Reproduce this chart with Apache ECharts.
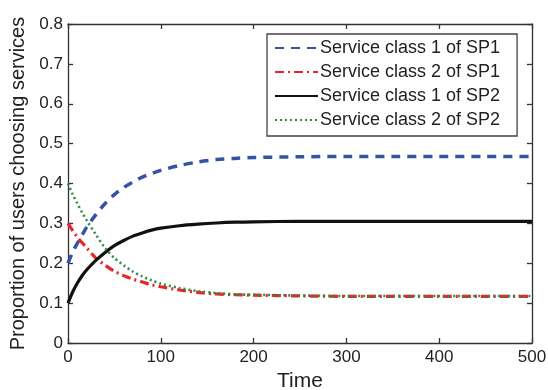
<!DOCTYPE html>
<html><head><meta charset="utf-8">
<script src="https://cdn.jsdelivr.net/npm/echarts@6/dist/echarts.min.js"></script>
<style>html,body{margin:0;padding:0;background:#fff}#c{width:548px;height:390px}</style>
</head><body><div id="c"></div>
<script>
const times = [0,5,10,15,20,30,40,50,60,70,80,90,100,120,140,160,180,200,250,300,350,400,450,500];
const sp1Class1 = [0.200,0.228,0.250,0.270,0.290,0.322,0.350,0.372,0.390,0.404,0.416,0.425,0.433,0.445,0.454,0.460,0.463,0.465,0.467,0.468,0.468,0.468,0.468,0.468];
const sp1Class2 = [0.300,0.282,0.266,0.252,0.239,0.213,0.195,0.180,0.169,0.160,0.153,0.146,0.141,0.133,0.127,0.123,0.121,0.120,0.118,0.117,0.117,0.117,0.117,0.117];
const sp2Class1 = [0.100,0.128,0.150,0.168,0.183,0.207,0.227,0.244,0.257,0.268,0.276,0.283,0.288,0.294,0.298,0.301,0.303,0.304,0.305,0.305,0.305,0.305,0.305,0.305];
const sp2Class2 = [0.400,0.373,0.350,0.328,0.308,0.272,0.238,0.213,0.195,0.179,0.167,0.157,0.149,0.138,0.130,0.125,0.122,0.121,0.119,0.118,0.118,0.118,0.118,0.118];
const seriesNames = ['Service class 1 of SP1','Service class 2 of SP1','Service class 1 of SP2','Service class 2 of SP2'];
const xTicks = [0,100,200,300,400,500];
const yTicks = [0,0.1,0.2,0.3,0.4,0.5,0.6,0.7,0.8];

const pair = arr => times.map((t,i)=>[t,arr[i]]);
const font = 'Liberation Sans, Arial, sans-serif';
const chart = echarts.init(document.getElementById('c'), null, {renderer:'canvas'});
const axisBase = {
  axisLine:{show:true,onZero:false,lineStyle:{color:'#333',width:1.3}},
  axisTick:{show:true,inside:true,length:5,lineStyle:{color:'#333',width:1.3}},
  splitLine:{show:false}
};
chart.setOption({
  animation:false,
  backgroundColor:'#fff',
  grid:{left:68,right:16,top:24,bottom:47,containLabel:false,outerBoundsMode:'none'},
  legend:{
    orient:'vertical', left:267, top:34,
    padding:[5,17,7,7], itemGap:6, itemWidth:43, itemHeight:14,
    borderColor:'#444', borderWidth:1.3, backgroundColor:'#fff',
    itemStyle:{opacity:0},
    textStyle:{fontFamily:font,fontSize:18,color:'#222',padding:[0,0,0,-3]},
    data:seriesNames
  },
  xAxis:[
    Object.assign({type:'value',min:xTicks[0],max:xTicks[xTicks.length-1],interval:100,
      name:'Time',nameLocation:'middle',nameGap:21,
      nameTextStyle:{fontFamily:font,fontSize:21,color:'#222'},
      axisLabel:{fontFamily:font,fontSize:17,color:'#222',margin:6}},axisBase),
    Object.assign({type:'value',position:'top',min:0,max:500,interval:100,axisLabel:{show:false}},axisBase)
  ],
  yAxis:[
    Object.assign({type:'value',min:yTicks[0],max:yTicks[yTicks.length-1],interval:0.1,
      name:'Proportion of users choosing services',nameLocation:'middle',nameGap:32,
      nameTextStyle:{fontFamily:font,fontSize:20,color:'#222'},
      axisLabel:{fontFamily:font,fontSize:17,color:'#222',margin:5,
        formatter:v=>v===0?'0':v.toFixed(1)}},axisBase),
    Object.assign({type:'value',position:'right',min:0,max:0.8,interval:0.1,axisLabel:{show:false}},axisBase)
  ],
  series:[
    {name:seriesNames[0],type:'line',data:pair(sp1Class1),showSymbol:false,symbol:'none',smooth:0.3,
      lineStyle:{color:'#3553a6',width:3.5,type:[9,7]},itemStyle:{color:'#3553a6'}},
    {name:seriesNames[1],type:'line',data:pair(sp1Class2),showSymbol:false,symbol:'none',smooth:0.3,
      lineStyle:{color:'#e8262a',width:3.2,type:[9,4,2,4]},itemStyle:{color:'#e8262a'}},
    {name:seriesNames[2],type:'line',data:pair(sp2Class1),showSymbol:false,symbol:'none',smooth:0.3,
      lineStyle:{color:'#111',width:3.2},itemStyle:{color:'#111'}},
    {name:seriesNames[3],type:'line',data:pair(sp2Class2),showSymbol:false,symbol:'none',smooth:0.3,
      lineStyle:{color:'#2e8b45',width:2.6,type:[2,3]},itemStyle:{color:'#2e8b45'}}
  ]
});
</script></body></html>
